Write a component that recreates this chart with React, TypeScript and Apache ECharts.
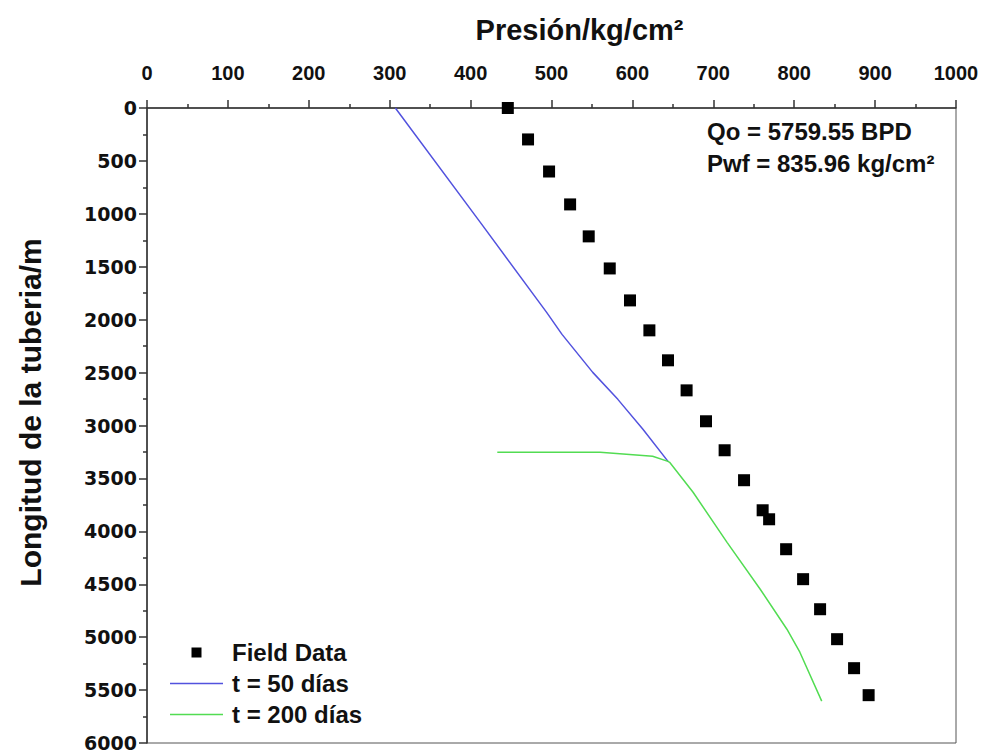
import React, { useEffect, useRef } from "react";
import * as echarts from "echarts";

// Field data: [pressure kg/cm², depth m]
const fieldPressure = [446, 471, 497, 523, 546, 572, 597, 621, 644, 667, 691, 714, 738, 761, 769, 790, 811, 832, 853, 874, 892];
const fieldDepth = [0, 297, 600, 911, 1213, 1516, 1818, 2101, 2384, 2668, 2960, 3234, 3517, 3801, 3886, 4169, 4452, 4736, 5019, 5293, 5548];

// t = 50 días
const t50Pressure = [307, 412, 494, 513, 551, 582, 613, 644];
const t50Depth = [0, 1081, 1931, 2139, 2498, 2753, 3036, 3339];

// t = 200 días
const t200Pressure = [433, 560, 625, 644, 646, 675, 717, 758, 791, 807, 834];
const t200Depth = [3253, 3253, 3291, 3339, 3348, 3631, 4104, 4547, 4925, 5142, 5604];

const xTicks = [0, 100, 200, 300, 400, 500, 600, 700, 800, 900, 1000];
const yTicks = [0, 500, 1000, 1500, 2000, 2500, 3000, 3500, 4000, 4500, 5000, 5500, 6000];

const seriesNames = ["Field Data", "t = 50 días", "t = 200 días"];
const annotations = ["Qo = 5759.55 BPD", "Pwf = 835.96 kg/cm²"];

const FONT = "'Liberation Sans', Arial, sans-serif";
const WIDE = "'DejaVu Sans', sans-serif";
const BLUE = "#5252de";
const GREEN = "#52dc52";

const zip = (a: number[], b: number[]) => a.map((v, i) => [v, b[i]]);

export default function App() {
  const ref = useRef<HTMLDivElement>(null);
  useEffect(() => {
    if (!ref.current) return;
    const chart = echarts.init(ref.current, null, { renderer: "svg" });
    chart.setOption({
      animation: false,
      backgroundColor: "#ffffff",
      grid: {
        left: 147,
        right: 28,
        top: 108,
        bottom: 11,
        show: true,
        borderColor: "#555",
        borderWidth: 1,
        backgroundColor: "transparent",
      },
      xAxis: {
        type: "value",
        position: "top",
        min: xTicks[0],
        max: xTicks[xTicks.length - 1],
        interval: 100,
        name: "Presión/kg/cm²",
        nameLocation: "middle",
        nameGap: 64,
        nameTextStyle: { fontFamily: FONT, fontWeight: "bold", fontSize: 29, color: "#111", padding: [0, 0, 0, 56] },
        axisLine: { show: true, lineStyle: { color: "#333", width: 1.5 } },
        axisTick: { show: true, length: 8, lineStyle: { color: "#333", width: 1.5 } },
        minorTick: { show: true, splitNumber: 2, length: 4, lineStyle: { color: "#333", width: 1.5 } },
        splitLine: { show: false },
        axisLabel: {
          fontFamily: FONT,
          fontWeight: "bold",
          fontSize: 20,
          color: "#111",
          margin: 25,
          formatter: (v: number) => String(v),
        },
      },
      yAxis: {
        type: "value",
        inverse: true,
        min: yTicks[0],
        max: yTicks[yTicks.length - 1],
        interval: 500,
        name: "Longitud de la tuberia/m",
        nameLocation: "middle",
        nameGap: 102,
        nameTextStyle: { fontFamily: FONT, fontWeight: "bold", fontSize: 30, color: "#111", padding: [0, 0, 0, 26] },
        axisLine: { show: true, lineStyle: { color: "#333", width: 1.5 } },
        axisTick: { show: true, length: 8, lineStyle: { color: "#333", width: 1.5 } },
        minorTick: { show: true, splitNumber: 2, length: 4, lineStyle: { color: "#333", width: 1.5 } },
        splitLine: { show: false },
        axisLabel: {
          fontFamily: WIDE,
          fontWeight: "bold",
          fontSize: 19,
          color: "#111",
          margin: 10,
          formatter: (v: number) => String(v),
        },
      },
      legend: {
        orient: "vertical",
        left: 170,
        top: 637,
        padding: 0,
        itemGap: 0,
        itemWidth: 53,
        itemHeight: 10,
        symbolKeepAspect: true,
        textStyle: { fontFamily: FONT, fontWeight: "bold", fontSize: 24, color: "#111", lineHeight: 31, padding: [0, 0, 0, 4] },
        data: [
          { name: seriesNames[0], icon: "path://M0,0L10,0L10,10L0,10Z" },
          { name: seriesNames[1], icon: "path://M0,0L53,0L53,1.5L0,1.5Z" },
          { name: seriesNames[2], icon: "path://M0,0L53,0L53,1.5L0,1.5Z" },
        ],
      },
      graphic: [
        {
          type: "text",
          left: 707,
          top: 119,
          style: { text: annotations[0], fontFamily: FONT, fontWeight: "bold", fontSize: 24, fill: "#111" },
        },
        {
          type: "text",
          left: 707,
          top: 151,
          style: { text: annotations[1], fontFamily: FONT, fontWeight: "bold", fontSize: 24, fill: "#111" },
        },
      ],
      series: [
        {
          name: seriesNames[0],
          type: "scatter",
          symbol: "rect",
          symbolSize: 12,
          itemStyle: { color: "#000", opacity: 1 },
          data: zip(fieldPressure, fieldDepth),
          z: 3,
        },
        {
          name: seriesNames[1],
          type: "line",
          symbol: "none",
          lineStyle: { color: BLUE, width: 1.5 },
          itemStyle: { color: BLUE },
          data: zip(t50Pressure, t50Depth),
          z: 2,
        },
        {
          name: seriesNames[2],
          type: "line",
          symbol: "none",
          lineStyle: { color: GREEN, width: 1.5 },
          itemStyle: { color: GREEN },
          data: zip(t200Pressure, t200Depth),
          z: 2,
        },
      ],
    });
    return () => chart.dispose();
  }, []);
  return <div ref={ref} style={{ position: "absolute", left: 0, top: 0, width: 984, height: 754 }} />;
}
